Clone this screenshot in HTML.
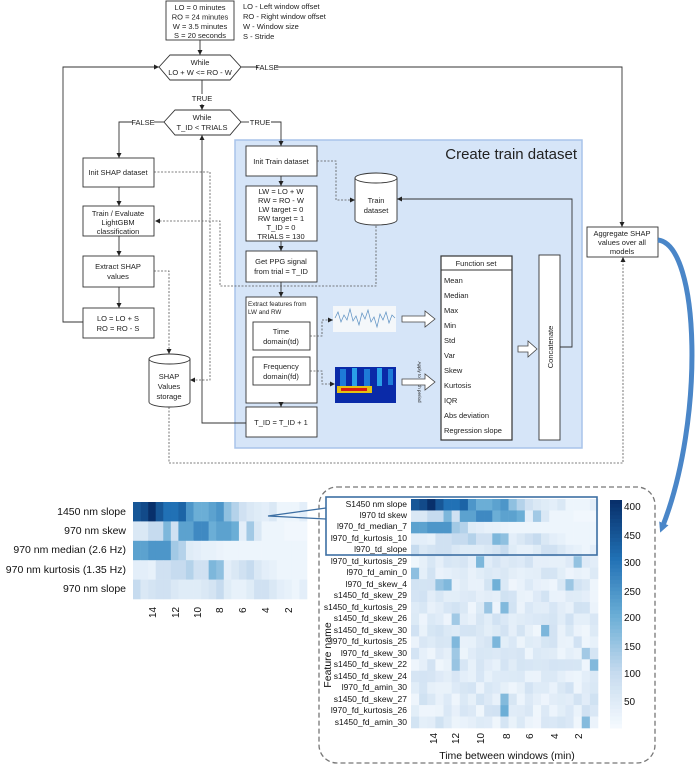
<!DOCTYPE html>
<html><head><meta charset="utf-8">
<style>
html,body{margin:0;padding:0;background:#fff;}
body{width:700px;height:766px;overflow:hidden;position:relative;font-family:"Liberation Sans",sans-serif;}
svg{position:absolute;left:0;top:0;}
.t{font-family:"Liberation Sans",sans-serif;font-size:7.5px;fill:#222;}
.hm{font-family:"Liberation Sans",sans-serif;fill:#111;}
</style></head><body>
<svg id="s" width="700" height="766" viewBox="0 0 700 766" xmlns="http://www.w3.org/2000/svg">
<defs>
<marker id="a" markerWidth="6" markerHeight="6" refX="5" refY="3" orient="auto" markerUnits="userSpaceOnUse"><path d="M0,0.5 L5,3 L0,5.5 z" fill="#222"/></marker>
<marker id="bh" markerWidth="10" markerHeight="10" refX="5" refY="5" orient="auto" markerUnits="userSpaceOnUse"><path d="M0,0 L10,5 L0,10 z" fill="#4a86c8"/></marker>
</defs>
<!-- blue region -->
<rect x="235" y="140" width="347" height="308" fill="#d6e5f8" stroke="#a8c4ea" stroke-width="1.5"/>
<text x="577" y="159" text-anchor="end" style="font-family:'Liberation Sans',sans-serif;font-size:15px;fill:#222">Create train dataset</text>

<g stroke="#333" stroke-width="0.9" fill="#fff">
<rect x="166" y="1" width="68" height="39"/>
<polygon points="159,67 170,55 230,55 241,67 230,80 170,80"/>
<polygon points="164,122 175,110 230,110 241,122 230,135 175,135"/>
<rect x="83" y="158" width="71" height="29"/>
<rect x="83" y="206" width="71" height="30"/>
<rect x="83" y="256" width="71" height="31"/>
<rect x="83" y="308" width="71" height="30"/>
<rect x="246" y="146" width="71" height="30"/>
<rect x="246" y="186" width="71" height="55"/>
<rect x="246" y="251" width="71" height="31"/>
<rect x="246" y="297" width="71" height="106"/>
<rect x="253" y="322" width="57" height="28"/>
<rect x="253" y="357" width="57" height="28"/>
<rect x="246" y="407" width="71" height="30"/>
<rect x="441" y="256" width="71" height="184" stroke-width="1.2"/>
<line x1="441" y1="270" x2="512" y2="270"/>
<rect x="539" y="255" width="21" height="185"/>
<rect x="587" y="227" width="71" height="30"/>
<!-- cylinders -->
<path d="M355,178 L355,220 A21,5 0 0 0 397,220 L397,178"/>
<ellipse cx="376" cy="178" rx="21" ry="5"/>
<path d="M149,359 L149,402 A20.5,5 0 0 0 190,402 L190,359"/>
<ellipse cx="169.5" cy="359" rx="20.5" ry="5"/>
</g>

<!-- texts -->
<g class="t" text-anchor="middle">
<text x="200" y="10">LO = 0 minutes</text>
<text x="200" y="19.5">RO = 24 minutes</text>
<text x="200" y="29">W = 3.5 minutes</text>
<text x="200" y="38">S = 20 seconds</text>
<text x="200" y="65">While</text>
<text x="200" y="75">LO + W &lt;= RO - W</text>
<text x="202" y="101">TRUE</text>
<text x="202" y="120">While</text>
<text x="202" y="130">T_ID &lt; TRIALS</text>
<text x="118" y="175">Init SHAP dataset</text>
<text x="118" y="216">Train / Evaluate</text>
<text x="118" y="225">LightGBM</text>
<text x="118" y="234">classification</text>
<text x="118" y="269">Extract SHAP</text>
<text x="118" y="279">values</text>
<text x="118" y="321">LO = LO + S</text>
<text x="118" y="331">RO = RO - S</text>
<text x="281" y="164">Init Train dataset</text>
<text x="281" y="194">LW = LO + W</text>
<text x="281" y="203">RW = RO - W</text>
<text x="281" y="212">LW target = 0</text>
<text x="281" y="221">RW target = 1</text>
<text x="281" y="230">T_ID = 0</text>
<text x="281" y="239">TRIALS = 130</text>
<text x="281" y="264">Get PPG signal</text>
<text x="281" y="274">from trial = T_ID</text>
<text x="281" y="334">Time</text>
<text x="281" y="344">domain(td)</text>
<text x="281" y="369">Frequency</text>
<text x="281" y="379">domain(fd)</text>
<text x="281" y="425">T_ID = T_ID + 1</text>
<text x="376" y="203">Train</text>
<text x="376" y="213">dataset</text>
<text x="169" y="379">SHAP</text>
<text x="169" y="389">Values</text>
<text x="169" y="399">storage</text>
<text x="476" y="266">Function set</text>
<text x="622" y="236">Aggregate SHAP</text>
<text x="622" y="245">values over all</text>
<text x="622" y="254">models</text>
</g>
<g class="t">
<text x="243" y="9">LO - Left window offset</text>
<text x="243" y="19">RO - Right window offset</text>
<text x="243" y="29">W - Window size</text>
<text x="243" y="39">S - Stride</text>
<text x="248" y="306" style="font-size:6.3px">Extract features from</text>
<text x="248" y="314" style="font-size:6.3px">LW and RW</text>
<g style="font-size:7.5px">
<text x="444" y="283">Mean</text><text x="444" y="298">Median</text><text x="444" y="313">Max</text>
<text x="444" y="328">Min</text><text x="444" y="343">Std</text><text x="444" y="358">Var</text>
<text x="444" y="373">Skew</text><text x="444" y="388">Kurtosis</text><text x="444" y="403">IQR</text>
<text x="444" y="418">Abs deviation</text><text x="444" y="433">Regression slope</text>
</g>
<text transform="translate(553,347) rotate(-90)" text-anchor="middle">Concatenate</text>
<text transform="translate(418,382) rotate(90)" text-anchor="middle" style="font-size:4.5px">Apply to each period</text>
</g>

<!-- solid connectors -->
<g stroke="#333" stroke-width="0.9" fill="none">
<line x1="200" y1="40" x2="200" y2="55" marker-end="url(#a)"/>
<line x1="202" y1="80" x2="202" y2="94"/>
<line x1="202" y1="104" x2="202" y2="110" marker-end="url(#a)"/>
<polyline points="241,67 258,67"/>
<polyline points="276,67 622,67 622,227" marker-end="url(#a)"/>
<polyline points="83,322 63,322 63,67 159,67" marker-end="url(#a)"/>
<polyline points="164,122 154,122"/>
<polyline points="132,122 119,122 119,158" marker-end="url(#a)"/>
<polyline points="241,122 249,122"/>
<polyline points="271,122 281,122 281,146" marker-end="url(#a)"/>
<line x1="119" y1="187" x2="119" y2="206" marker-end="url(#a)"/>
<line x1="119" y1="236" x2="119" y2="256" marker-end="url(#a)"/>
<line x1="119" y1="287" x2="119" y2="308" marker-end="url(#a)"/>
<line x1="281" y1="176" x2="281" y2="186" marker-end="url(#a)"/>
<line x1="281" y1="241" x2="281" y2="251" marker-end="url(#a)"/>
<line x1="281" y1="282" x2="281" y2="297" marker-end="url(#a)"/>
<line x1="281" y1="403" x2="281" y2="407" marker-end="url(#a)"/>
<polyline points="246,423 202,423 202,135" marker-end="url(#a)"/>
<polyline points="560,347 572,347 572,199 397,199" marker-end="url(#a)"/>
</g>
<g class="t" text-anchor="middle"><text x="267" y="70">FALSE</text><text x="143" y="125">FALSE</text><text x="260" y="125">TRUE</text></g>
<!-- dotted connectors -->
<g stroke="#555" stroke-width="0.8" fill="none" stroke-dasharray="2,1.5">
<polyline points="317,161 336,161 336,200 355,200" marker-end="url(#a)"/>
<polyline points="376,226 376,286 220,286 220,221 155,221" marker-end="url(#a)"/>
<polyline points="154,172 210,172 210,380 190,380" marker-end="url(#a)"/>
<polyline points="154,271 169,271 169,354" marker-end="url(#a)"/>
<polyline points="169,407 169,463 623,463 623,257" marker-end="url(#a)"/>
<polyline points="310,336 322,336 322,320 333,320" marker-end="url(#a)"/>
<polyline points="310,371 322,371 322,384 335,384" marker-end="url(#a)"/>
</g>
<!-- signal images -->
<rect x="333" y="306" width="63" height="26" fill="#f4f7fa"/>
<polyline fill="none" stroke="#5a8fc2" stroke-width="0.7" points="335,318 338,312 341,322 344,315 347,320 350,309 353,321 356,316 359,325 362,313 365,319 368,310 371,322 374,317 377,327 380,314 383,320 386,312 389,323 392,315 395,318"/>
<rect x="335" y="367" width="61" height="36" fill="#0a2aa8"/>
<rect x="340" y="369" width="6" height="20" fill="#1e7bd8"/><rect x="352" y="368" width="5" height="18" fill="#2aa0e8"/>
<rect x="364" y="369" width="6" height="20" fill="#1e7bd8"/><rect x="377" y="368" width="5" height="18" fill="#2aa0e8"/><rect x="388" y="369" width="5" height="16" fill="#1e7bd8"/>
<rect x="337" y="386" width="35" height="7" fill="#e6c010"/><rect x="341" y="388" width="26" height="3" fill="#d81c10"/>
<g fill="#fff" stroke="#444" stroke-width="0.8">
<polygon points="402,316 425,316 425,311 435,319 425,327 425,322 402,322"/>
<polygon points="402,379 425,379 425,374 435,382 425,390 425,385 402,385"/>
<polygon points="518,346 528,346 528,341 537,349 528,357 528,352 518,352"/>
</g>
<!-- big blue arrow -->
<path d="M658,240 C700,245 705,420 662,528" fill="none" stroke="#4a86c8" stroke-width="5" marker-end="url(#bh)"/>

<!-- dashed bottom frame -->
<rect x="319" y="487" width="336" height="276" rx="18" fill="none" stroke="#777" stroke-width="1.3" stroke-dasharray="5,3"/>
<g id="hmL"></g><g id="hmR"></g><g id="cb"></g>
<g class="hm" style="font-size:10.5px" text-anchor="end">
<text x="126" y="515">1450 nm slope</text>
<text x="126" y="534">970 nm skew</text>
<text x="126" y="553">970 nm median (2.6 Hz)</text>
<text x="126" y="573">970 nm kurtosis (1.35 Hz)</text>
<text x="126" y="592">970 nm slope</text>
</g>
<g class="hm" style="font-size:8.5px" text-anchor="end" id="rl">
<text x="407" y="507">S1450 nm slope</text><text x="407" y="518">l970 td skew</text>
<text x="407" y="529">l970_fd_median_7</text><text x="407" y="541">l970_fd_kurtosis_10</text>
<text x="407" y="552">l970_td_slope</text><text x="407" y="564">l970_td_kurtosis_29</text>
<text x="407" y="575">l970_fd_amin_0</text><text x="407" y="587">l970_fd_skew_4</text>
<text x="407" y="598">s1450_fd_skew_29</text><text x="407" y="610">s1450_fd_kurtosis_29</text>
<text x="407" y="621">s1450_fd_skew_26</text><text x="407" y="633">s1450_fd_skew_30</text>
<text x="407" y="644">l970_fd_kurtosis_25</text><text x="407" y="656">l970_fd_skew_30</text>
<text x="407" y="667">s1450_fd_skew_22</text><text x="407" y="679">s1450_fd_skew_24</text>
<text x="407" y="690">l970_fd_amin_30</text><text x="407" y="702">s1450_fd_skew_27</text>
<text x="407" y="713">l970_fd_kurtosis_26</text><text x="407" y="725">s1450_fd_amin_30</text>
</g>
<text class="hm" transform="translate(331,655) rotate(-90)" text-anchor="middle" style="font-size:10.5px">Feature name</text>
<text class="hm" x="507" y="759" text-anchor="middle" style="font-size:10.5px">Time between windows (min)</text>
<g class="hm" style="font-size:10px">
<text transform="translate(156,618) rotate(-90)">14</text><text transform="translate(179,618) rotate(-90)">12</text>
<text transform="translate(201,618) rotate(-90)">10</text><text transform="translate(223,613) rotate(-90)">8</text>
<text transform="translate(246,613) rotate(-90)">6</text><text transform="translate(269,613) rotate(-90)">4</text>
<text transform="translate(292,613) rotate(-90)">2</text>
<text transform="translate(437,744) rotate(-90)">14</text><text transform="translate(459,744) rotate(-90)">12</text>
<text transform="translate(484,744) rotate(-90)">10</text><text transform="translate(510,739) rotate(-90)">8</text>
<text transform="translate(533,739) rotate(-90)">6</text><text transform="translate(558,739) rotate(-90)">4</text>
<text transform="translate(582,739) rotate(-90)">2</text>
</g>
<g class="hm" style="font-size:10px">
<text x="624" y="510">400</text><text x="624" y="539">450</text><text x="624" y="566">300</text>
<text x="624" y="595">250</text><text x="624" y="621">200</text><text x="624" y="650">150</text>
<text x="624" y="677">100</text><text x="624" y="705">50</text>
</g>
<!-- highlight box & callout -->
<rect x="326" y="497" width="271" height="58" fill="none" stroke="#3d6fa3" stroke-width="1.6"/>
<polyline points="326,508 268,516 326,519" fill="none" stroke="#3d6fa3" stroke-width="1.3"/>
</svg>
<script>
(function(){
var NS="http://www.w3.org/2000/svg";
var stops=[[0,[247,251,255]],[.25,[198,219,239]],[.5,[107,174,214]],[.75,[33,113,181]],[1,[8,48,107]]];
function col(v){v=Math.max(0,Math.min(1,v));for(var i=1;i<stops.length;i++){if(v<=stops[i][0]){var a=stops[i-1],b=stops[i],t=(v-a[0])/(b[0]-a[0]);return "rgb("+[0,1,2].map(function(k){return Math.round(a[1][k]+(b[1][k]-a[1][k])*t)}).join(",")+")";}}}
var top=[
[.85,.9,1,.85,.75,.75,.8,.6,.5,.5,.55,.6,.4,.3,.2,.15,.12,.1,.15,.05,.05,.05,.1],
[.15,.15,.25,.25,.45,.2,.55,.55,.65,.65,.5,.55,.55,.5,.1,.35,.15,.05,.05,.05,.03,.03,.03],
[.55,.55,.6,.6,.6,.35,.3,.12,.1,.08,.08,.06,.05,.05,.05,.05,.05,.05,.05,.05,.05,.05,.05],
[.1,.1,.08,.2,.2,.25,.25,.3,.2,.2,.45,.4,.1,.15,.2,.25,.15,.1,.08,.05,.05,.05,.05],
[.25,.15,.18,.2,.2,.15,.12,.12,.12,.15,.18,.25,.12,.08,.08,.12,.2,.2,.15,.1,.08,.05,.1]];
var seed=7;function r(){seed=(seed*16807)%2147483647;return seed/2147483647;}
var rows=top.slice();
for(var i=0;i<15;i++){var row=[];for(var j=0;j<23;j++){var v=0.04+r()*0.16;if(r()<0.06)v=0.35+r()*0.15;row.push(v);}rows.push(row);}
function draw(g,x0,y0,w,h,data){var G=document.getElementById(g);var cw=w/23,ch=h/data.length;
data.forEach(function(row,i){row.forEach(function(v,j){var e=document.createElementNS(NS,"rect");e.setAttribute("x",(x0+j*cw).toFixed(2));e.setAttribute("y",(y0+i*ch).toFixed(2));e.setAttribute("width",(cw+0.3).toFixed(2));e.setAttribute("height",(ch+0.3).toFixed(2));e.setAttribute("fill",col(v));G.appendChild(e);});});}
draw("hmL",133,502,174,97,top);
draw("hmR",411,499,187,229,rows);
var C=document.getElementById("cb");
for(var k=0;k<60;k++){var e=document.createElementNS(NS,"rect");e.setAttribute("x",610);e.setAttribute("y",(500+k*228/60).toFixed(2));e.setAttribute("width",12);e.setAttribute("height",(228/60+0.4).toFixed(2));e.setAttribute("fill",col(1-k/60));C.appendChild(e);}
})();
</script>
</body></html>
